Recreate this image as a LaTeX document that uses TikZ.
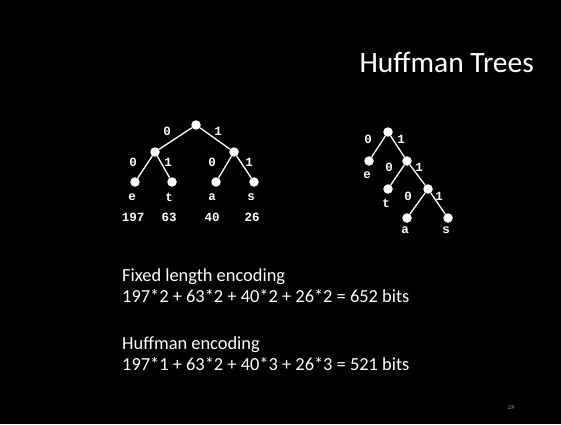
\documentclass[tikz,border=0pt]{standalone}
\usepackage{fontspec}
\setmainfont{Carlito}
\newfontfamily\monof{Liberation Mono}
\begin{document}
\begin{tikzpicture}[x=1pt,y=-1pt,
  dot/.style={circle,fill=white,inner sep=0pt,minimum size=9.5pt},
  edge/.style={draw=white,line width=1.3pt},
  lbl/.style={text=white,font=\monof\bfseries\fontsize{12.5}{14}\selectfont,inner sep=0pt},
  body/.style={text=white,font=\fontsize{18.4}{22}\selectfont,inner sep=0pt,anchor=base west}]
\fill[black] (0,0) rectangle (561,424);
\useasboundingbox (0,0) rectangle (561,424);
\node[text=white,font=\fontsize{29.5}{36}\selectfont,anchor=base east,inner sep=0pt] (title) at (534,72) {Huffman Trees};
% left tree
\node[dot] (r) at (196,125) {};
\node[dot] (l) at (155,152) {};
\node[dot] (rr) at (234,152) {};
\node[dot] (e) at (135,182) {};
\node[dot] (t) at (172,182) {};
\node[dot] (a) at (216,182) {};
\node[dot] (s) at (254,182) {};
\draw[edge] (r) -- (l); \draw[edge] (r) -- (rr);
\draw[edge] (l) -- (e); \draw[edge] (l) -- (t);
\draw[edge] (rr) -- (a); \draw[edge] (rr) -- (s);
\node[lbl] (l1) at (167,131) {0};
\node[lbl] (l2) at (218,131) {1};
\node[lbl] (l3) at (133,162) {0};
\node[lbl] (l4) at (168,162) {1};
\node[lbl] (l5) at (212,162) {0};
\node[lbl] (l6) at (249,162) {1};
\node[lbl] (le) at (132,197) {e};
\node[lbl] (lt) at (169,197) {t};
\node[lbl] (la) at (212,197) {a};
\node[lbl] (ls) at (251,197) {s};
\node[lbl] (n1) at (133,217) {197};
\node[lbl] (n2) at (169,217) {63};
\node[lbl] (n3) at (212,217) {40};
\node[lbl] (n4) at (252,217) {26};
% right tree
\node[dot] (R) at (388,132) {};
\node[dot] (E) at (369,161) {};
\node[dot] (N2) at (407,161) {};
\node[dot] (T) at (388,189) {};
\node[dot] (N3) at (428,189) {};
\node[dot] (A) at (407,218) {};
\node[dot] (S) at (448,218) {};
\draw[edge] (R) -- (E); \draw[edge] (R) -- (N2);
\draw[edge] (N2) -- (T); \draw[edge] (N2) -- (N3);
\draw[edge] (N3) -- (A); \draw[edge] (N3) -- (S);
\node[lbl] (m1) at (368,139) {0};
\node[lbl] (m2) at (401,139) {1};
\node[lbl] (m3) at (389,167) {0};
\node[lbl] (m4) at (419,167) {1};
\node[lbl] (m5) at (408,196) {0};
\node[lbl] (m6) at (439,196) {1};
\node[lbl] (me) at (367,175) {e};
\node[lbl] (mt) at (386,203) {t};
\node[lbl] (ma) at (405,230) {a};
\node[lbl] (ms) at (446,230) {s};
% text
\node[body] (f1) at (122,281) {Fixed length encoding};
\node[body] (f2) at (122,302) {197*2 + 63*2 + 40*2 + 26*2 = 652 bits};
\node[body] (h1) at (122,349) {Huffman encoding};
\node[body] (h2) at (122,370) {197*1 + 63*2 + 40*3 + 26*3 = 521 bits};
\node[text=gray!70,font=\fontfamily{lmr}\selectfont\fontsize{6}{7}\selectfont,inner sep=0pt] (pg) at (511,408) {28};
\end{tikzpicture}
\end{document}
